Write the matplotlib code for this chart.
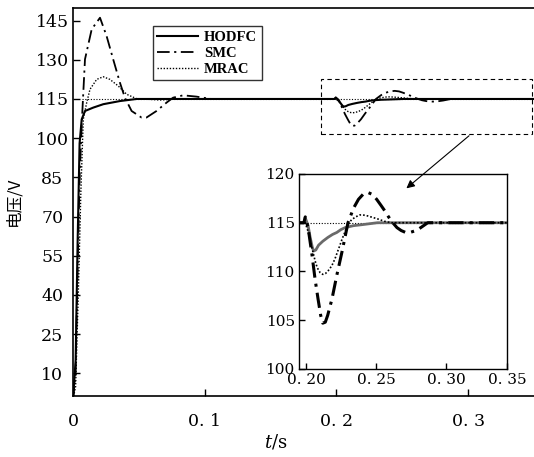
import numpy as np
import matplotlib.pyplot as plt
from matplotlib.patches import Rectangle

plt.rcParams['font.family'] = ['DejaVu Serif']
plt.rcParams['mathtext.fontset'] = 'dejavuserif'

# 输出电压响应数据 (t/s, V)
t_hodfc = [0, 0.002, 0.0035, 0.005, 0.0066, 0.0091, 0.0154, 0.023, 0.0356, 0.0483, 0.07,
           0.1985, 0.1995, 0.2015, 0.203, 0.2045, 0.2055, 0.207, 0.209, 0.212, 0.2157,
           0.219, 0.222, 0.225, 0.228, 0.234, 0.24, 0.251, 0.35]
v_hodfc = [0, 15, 60, 98, 107.2, 110.4, 111.7, 113, 114.2, 115, 115,
           115, 115.5, 114.7, 113.5, 112.5, 112.1, 112.2, 112.7, 113.1, 113.5,
           113.8, 114.0, 114.3, 114.5, 114.7, 114.8, 115, 115]

t_smc = [0, 0.002, 0.0035, 0.005, 0.0068, 0.0091, 0.0142, 0.0205, 0.0255, 0.0305, 0.0356,
         0.0394, 0.0445, 0.052, 0.0558, 0.0634, 0.071, 0.076, 0.0836, 0.0937, 0.105,
         0.1985, 0.1995, 0.2015, 0.2043, 0.2065, 0.2086, 0.2105, 0.212, 0.2138, 0.2155,
         0.2186, 0.222, 0.2257, 0.228, 0.230, 0.234, 0.2375, 0.241, 0.2443, 0.2475,
         0.2505, 0.2535, 0.2564, 0.259, 0.262, 0.265, 0.268, 0.2712, 0.2743, 0.2775,
         0.281, 0.284, 0.287, 0.35]
v_smc = [0, 10, 50, 85, 107.2, 130.2, 141.7, 146.1, 139.1, 130.2, 121.3,
         115.5, 110.4, 107.9, 107.9, 110.4, 113.6, 115.5, 116.4, 115.9, 115,
         115, 115.6, 114.5, 111.7, 109.2, 107.2, 105.5, 104.7, 104.8, 105.5,
         107.2, 109.6, 112, 113.6, 115, 116.5, 117.4, 117.95, 118.1, 117.9,
         117.4, 116.8, 116.2, 115.6, 115, 114.5, 114.2, 114.0, 114.0, 114.15,
         114.4, 114.7, 115, 115]

t_mrac = [0, 0.002, 0.004, 0.006, 0.0078, 0.0104, 0.0129, 0.018, 0.023, 0.028, 0.0343,
          0.0407, 0.0483, 0.0558, 0.066, 0.08,
          0.1985, 0.1995, 0.2015, 0.2043, 0.2065, 0.208, 0.210, 0.212, 0.214, 0.216,
          0.2185, 0.2207, 0.2235, 0.226, 0.228, 0.230, 0.2325, 0.2355, 0.2385, 0.2407,
          0.244, 0.2475, 0.251, 0.256, 0.261, 0.35]
v_mrac = [0, 5, 40, 80, 107.2, 113.6, 118.7, 122.5, 123.5, 122.5, 120,
          116.8, 115.1, 114.9, 114.6, 115,
          115, 115, 114.1, 112.4, 111.1, 110.4, 109.9, 109.7, 109.8, 110.1,
          110.6, 111.3, 112.4, 113.4, 114.1, 114.8, 115.3, 115.6, 115.8, 115.8,
          115.7, 115.55, 115.4, 115.15, 115, 115]

v_ref = 115

main_yticks = [10, 25, 40, 55, 70, 85, 100, 115, 130, 145]
main_xticks = [0, 0.1, 0.2, 0.3]
main_xlabels = ['0', '0. 1', '0. 2', '0. 3']
inset_yticks = [100, 105, 110, 115, 120]
inset_xticks = [0.20, 0.25, 0.30, 0.3436]
inset_xlabels = ['0. 20', '0. 25', '0. 30', '0. 35']

fig = plt.figure(figsize=(5.34, 4.57), dpi=100)
ax = fig.add_axes([0.1367, 0.1335, 0.8633, 0.850])

ax.axhline(v_ref, color='k', lw=0.8, ls=(0, (1, 1.5)), xmin=0.02)
ax.plot(t_hodfc, v_hodfc, color='k', lw=1.5, label='HODFC')
ax.plot(t_smc, v_smc, color='k', lw=1.3, dashes=(7, 2.5, 1.2, 2.5), label='SMC')
ax.plot(t_mrac, v_mrac, color='k', lw=1.0, ls=(0, (1, 1.2)), label='MRAC')

ax.set_xlim(0, 0.35)
ax.set_ylim(1.3, 150)
ax.set_yticks(main_yticks)
ax.set_xticks(main_xticks)
ax.set_xticklabels(main_xlabels)
ax.tick_params(direction='in', length=5, width=1, labelsize=12.5)
ax.tick_params(axis='x', pad=12)
ax.tick_params(axis='y', pad=15)
for lab in ax.get_yticklabels():
    lab.set_horizontalalignment('center')
ax.spines['right'].set_visible(False)
for s in ['left', 'bottom', 'top']:
    ax.spines[s].set_linewidth(1.2)

fig.text(0.026, 0.56, '电压/V', rotation=90, ha='center', va='center',
         family=['Noto Sans CJK SC', 'DejaVu Sans'], fontsize=12)
ax.set_xlabel('$t$/s', fontsize=13)
ax.xaxis.set_label_coords(0.44, -0.095)

leg = ax.legend(loc='upper left', bbox_to_anchor=(0.1735, 0.952), borderaxespad=0,
                fancybox=False, edgecolor='k', handlelength=2.8, handletextpad=0.4,
                labelspacing=0.2, borderpad=0.3,
                prop={'family': 'Liberation Serif', 'weight': 'bold', 'size': 10.5})
leg.get_frame().set_linewidth(1.0)

# 局部放大区域的虚线框
ax.add_patch(Rectangle((0.1886, 101.6), 0.3485 - 0.1886, 122.7 - 101.6,
                       fill=False, ls=(0, (4, 3)), lw=0.8, ec='k'))

# 放大子图
ax_in = fig.add_axes([0.5599, 0.1926, 0.3895, 0.4267])
ax_in.axhline(v_ref, color='k', lw=0.8, ls=(0, (1, 1.5)))
ax_in.plot(t_hodfc, v_hodfc, color='#6a6a6a', lw=2.0)
ax_in.plot(t_smc, v_smc, color='k', lw=2.2, dashes=(5, 2, 1, 2))
ax_in.plot(t_mrac, v_mrac, color='k', lw=1.2, ls=(0, (1, 1.2)))
ax_in.set_xlim(0.195, 0.3436)
ax_in.set_ylim(100, 120)
ax_in.set_yticks(inset_yticks)
ax_in.set_xticks(inset_xticks)
ax_in.set_xticklabels(inset_xlabels)
ax_in.tick_params(direction='in', length=4, width=1, labelsize=11, pad=3)
for s in ax_in.spines.values():
    s.set_linewidth(1.0)

ax_in.annotate('', xy=(0.2515, 80.1), xycoords=ax.transData,
               xytext=(0.3023, 101.6), textcoords=ax.transData,
               arrowprops=dict(arrowstyle='-|>', lw=0.8, color='k', mutation_scale=12))

fig.savefig('out.png', dpi=100)
